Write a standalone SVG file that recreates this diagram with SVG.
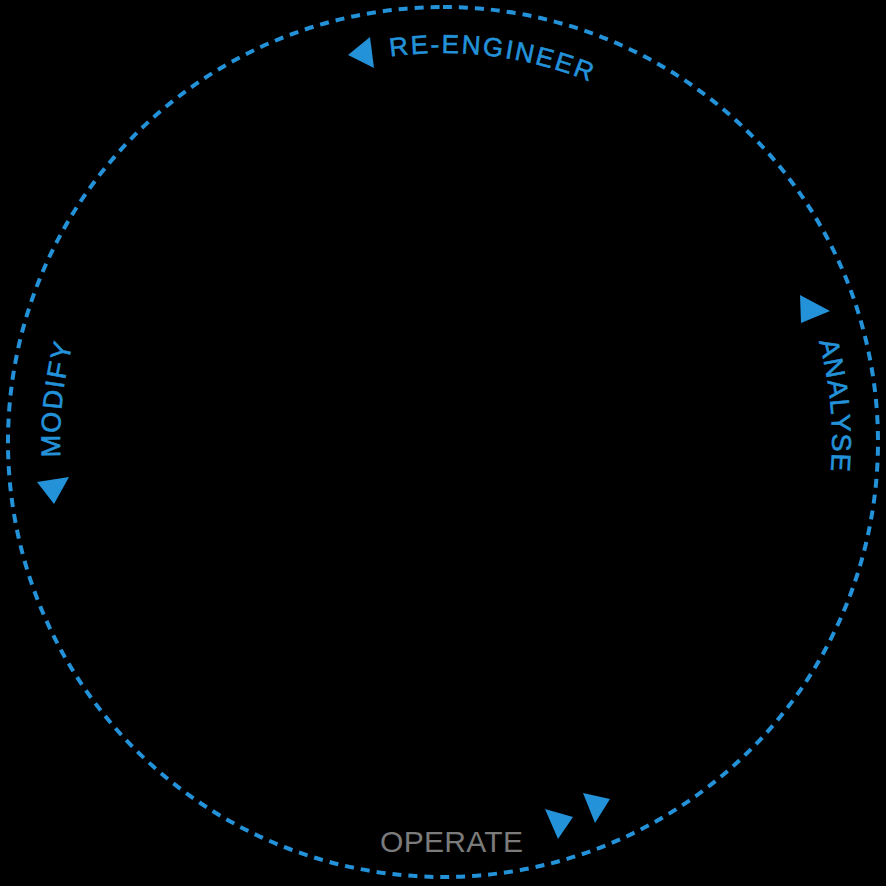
<svg xmlns="http://www.w3.org/2000/svg" width="886" height="886" viewBox="0 0 886 886">
<style>
.lbl{font-family:"Liberation Sans","DejaVu Sans",sans-serif;fill:#2392d9;stroke:#2392d9;stroke-width:0.6}
.tri{fill:#2392d9}
</style>
<defs>
<path id="pTop" d="M443,53 A389,389 0 1 1 443,831 A389,389 0 1 1 443,53"/>
<path id="pBot" d="M443,831 A389,389 0 1 1 443,53 A389,389 0 1 1 443,831"/>
<path id="pBotM" d="M443,825 A383,383 0 1 1 443,59 A383,383 0 1 1 443,825"/>
</defs>
<rect width="886" height="886" fill="#000"/>
<g id="connectors">
<path d="M443,7 A435,435 0 1 1 443,877 A435,435 0 1 1 443,7" fill="none" stroke="#2392d9" stroke-width="4" stroke-dasharray="9 7"/>
</g>
<g id="reengineer">
<polygon class="tri" points="348,55 370,37 374,68"/>
<text class="lbl" font-size="26"><textPath href="#pBot" startOffset="1169" textLength="203" lengthAdjust="spacing">RE-ENGINEER</textPath></text>
</g>
<g id="analyse">
<polygon class="tri" points="800,295 830,311 801,323"/>
<text class="lbl" font-size="27"><textPath href="#pTop" startOffset="509" textLength="131" lengthAdjust="spacing">ANALYSE</textPath></text>
</g>
<g id="modify">
<polygon class="tri" points="37,482 69,477 54,504"/>
<text class="lbl" font-size="27"><textPath href="#pBotM" startOffset="586" textLength="114" lengthAdjust="spacing">MODIFY</textPath></text>
</g>
<g id="operate">
<polygon class="tri" points="545,809 573,817 558,839"/>
<polygon class="tri" points="583,793 610,799 595,823"/>
<text x="380" y="852" font-family="Liberation Sans, DejaVu Sans, sans-serif" font-size="30" fill="#7b7b7b" textLength="143" lengthAdjust="spacing">OPERATE</text>
</g>
</svg>
